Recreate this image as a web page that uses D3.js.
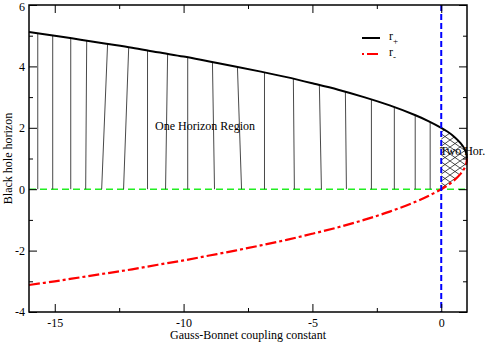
<!DOCTYPE html>
<html>
<head>
<meta charset="utf-8">
<script src="https://cdn.jsdelivr.net/npm/d3@7"></script>
<style>
body { margin: 0; background: #fff; }
text { font-family: "Liberation Serif", "Times New Roman", serif; }
</style>
</head>
<body>
<script>
(function(){

// coupling constant values (x) and the two horizons
var alphaVals = [-16, -15, -14, -13, -12, -11, -10, -9, -8, -7, -6, -5, -4, -3, -2, -1, -0.5, 0, 0.25, 0.5, 0.75, 0.9, 0.97, 1];
var rPlusVals = [5.12, 5.00, 4.87, 4.74, 4.61, 4.46, 4.32, 4.16, 4.00, 3.83, 3.65, 3.45, 3.24, 3.00, 2.73, 2.41, 2.22, 2.00, 1.87, 1.71, 1.50, 1.32, 1.17, 1.00];
var rMinusVals = [-3.12, -3.00, -2.87, -2.74, -2.61, -2.46, -2.32, -2.16, -2.00, -1.83, -1.65, -1.45, -1.24, -1.00, -0.73, -0.41, -0.22, 0.00, 0.13, 0.29, 0.50, 0.68, 0.83, 1.00];

// hand drawn hatch lines in the one horizon region (x at top, x at bottom)
var hatchTopX = [-15.66, -15.08, -14.38, -13.76, -12.95, -12.13, -11.40, -10.62, -9.84, -8.88, -7.91, -6.86, -5.74, -4.73, -3.72, -2.71, -1.82, -1.01, -0.43];
var hatchBottomX = [-15.66, -15.08, -14.38, -13.80, -13.18, -12.33, -11.40, -10.70, -9.84, -8.80, -7.75, -6.86, -5.70, -4.65, -3.68, -2.71, -1.82, -1.01, -0.43];

var xMajor = [-15, -10, -5, 0];
var xMinor = [-12.5, -7.5, -2.5];
var yMajor = [-4, -2, 0, 2, 4, 6];
var yMinor = [-3, -1, 1, 3, 5];

var width = 491, height = 342;
var left = 29, right = 467, top = 5, bottom = 312;
var serif = "'Liberation Serif', 'Times New Roman', serif";

var svg = d3.select("body").append("svg")
    .attr("width", width)
    .attr("height", height);

var x = d3.scaleLinear().domain([-16, 1]).range([left, right]);
var y = d3.scaleLinear().domain([-4, 6]).range([bottom, top]);

var data = alphaVals.map(function(a, i){
    return {a: a, p: rPlusVals[i], m: rMinusVals[i]};
});

//linear lookup of r+ for the hatch tops
function rPlusAt(a){
    for (var i = 1; i < alphaVals.length; i++){
        if (a <= alphaVals[i]){
            var t = (a - alphaVals[i-1]) / (alphaVals[i] - alphaVals[i-1]);
            return rPlusVals[i-1] + t * (rPlusVals[i] - rPlusVals[i-1]);
        }
    }
    return rPlusVals[rPlusVals.length-1];
}

//crosshatch pattern for the two horizon region
var defs = svg.append("defs");
var pat = defs.append("pattern")
    .attr("id", "xhatch")
    .attr("patternUnits", "userSpaceOnUse")
    .attr("width", 10)
    .attr("height", 7);
pat.append("path")
    .attr("d", "M0,0L10,7M0,7L10,0")
    .attr("stroke", "#000")
    .attr("stroke-width", 0.7)
    .attr("fill", "none");

//green zero line
svg.append("line")
    .attr("x1", x(-16)).attr("x2", x(1))
    .attr("y1", y(0)).attr("y2", y(0))
    .attr("stroke", "#22ee22")
    .attr("stroke-width", 1.5)
    .attr("stroke-dasharray", "7,4");

//vertical hatch lines
svg.selectAll(".hatch")
    .data(hatchTopX)
    .enter()
    .append("line")
    .attr("class", "hatch")
    .attr("x1", function(d){ return x(d); })
    .attr("y1", function(d){ return y(rPlusAt(d)); })
    .attr("x2", function(d, i){ return x(hatchBottomX[i]); })
    .attr("y2", y(0))
    .attr("stroke", "#333")
    .attr("stroke-width", 0.9);

//two horizon region
var twoHor = data.filter(function(d){ return d.a >= 0; });
svg.append("path")
    .datum(twoHor)
    .attr("d", d3.area()
        .x(function(d){ return x(d.a); })
        .y0(function(d){ return y(d.m); })
        .y1(function(d){ return y(d.p); })
        .curve(d3.curveCatmullRom))
    .attr("fill", "url(#xhatch)");

//r+ curve
svg.append("path")
    .datum(data)
    .attr("d", d3.line()
        .x(function(d){ return x(d.a); })
        .y(function(d){ return y(d.p); })
        .curve(d3.curveCatmullRom))
    .attr("fill", "none")
    .attr("stroke", "#000")
    .attr("stroke-width", 2);

//r- curve
svg.append("path")
    .datum(data)
    .attr("d", d3.line()
        .x(function(d){ return x(d.a); })
        .y(function(d){ return y(d.m); })
        .curve(d3.curveCatmullRom))
    .attr("fill", "none")
    .attr("stroke", "#ff0000")
    .attr("stroke-width", 2.2)
    .attr("stroke-dasharray", "11,3,3,3");

//blue dashed line at zero coupling
svg.append("line")
    .attr("x1", x(0)).attr("x2", x(0))
    .attr("y1", y(6)).attr("y2", y(-4))
    .attr("stroke", "#0000ff")
    .attr("stroke-width", 2)
    .attr("stroke-dasharray", "6,3");

//axes, ticks point inward on all four sides
function tidy(g){
    g.attr("font-family", serif).attr("font-size", 12);
    g.select(".domain").remove();
    g.selectAll(".tick line").attr("stroke", "#000");
    g.selectAll("text")
        .attr("fill", "#000")
        .style("font-family", serif)
        .style("font-size", "12px");
}

svg.append("g")
    .attr("transform", "translate(0," + bottom + ")")
    .call(d3.axisBottom(x).tickValues(xMajor).tickSize(-8).tickPadding(6)
        .tickFormat(function(d){ return d; }))
    .call(tidy);
svg.append("g")
    .attr("transform", "translate(0," + bottom + ")")
    .call(d3.axisBottom(x).tickValues(xMinor).tickSize(-4).tickFormat(""))
    .call(tidy);
svg.append("g")
    .attr("transform", "translate(0," + top + ")")
    .call(d3.axisTop(x).tickValues(xMajor).tickSize(-8).tickFormat(""))
    .call(tidy);
svg.append("g")
    .attr("transform", "translate(0," + top + ")")
    .call(d3.axisTop(x).tickValues(xMinor).tickSize(-4).tickFormat(""))
    .call(tidy);

var yAxisG = svg.append("g")
    .attr("transform", "translate(" + left + ",0)")
    .call(d3.axisLeft(y).tickValues(yMajor).tickSize(-8).tickPadding(4)
        .tickFormat(function(d){ return d; }))
    .call(tidy);
//keep the top label inside the window
yAxisG.selectAll(".tick text")
    .filter(function(d){ return d === 6; })
    .attr("dy", "0.45em");
svg.append("g")
    .attr("transform", "translate(" + left + ",0)")
    .call(d3.axisLeft(y).tickValues(yMinor).tickSize(-4).tickFormat(""))
    .call(tidy);
svg.append("g")
    .attr("transform", "translate(" + right + ",0)")
    .call(d3.axisRight(y).tickValues(yMajor).tickSize(-8).tickFormat(""))
    .call(tidy);
svg.append("g")
    .attr("transform", "translate(" + right + ",0)")
    .call(d3.axisRight(y).tickValues(yMinor).tickSize(-4).tickFormat(""))
    .call(tidy);

//frame
svg.append("rect")
    .attr("x", left).attr("y", top)
    .attr("width", right - left).attr("height", bottom - top)
    .attr("fill", "none")
    .attr("stroke", "#000")
    .attr("stroke-width", 1.5);

//axis titles
svg.append("text")
    .attr("x", (left + right) / 2)
    .attr("y", 339)
    .attr("text-anchor", "middle")
    .style("font-size", "12px")
    .text("Gauss-Bonnet coupling constant");

svg.append("text")
    .attr("transform", "translate(12," + ((top + bottom) / 2) + ") rotate(-90)")
    .attr("text-anchor", "middle")
    .style("font-size", "12px")
    .text("Black hole horizon");

//region labels
svg.append("text")
    .attr("x", 155).attr("y", 130)
    .style("font-size", "12px")
    .text("One Horizon Region");
svg.append("text")
    .attr("x", 440).attr("y", 155)
    .style("font-size", "12px")
    .text("Two Hor.");

//legend
var legend = svg.append("g");
legend.append("line")
    .attr("x1", 362).attr("x2", 380)
    .attr("y1", 38).attr("y2", 38)
    .attr("stroke", "#000").attr("stroke-width", 2);
legend.append("line")
    .attr("x1", 362).attr("x2", 381)
    .attr("y1", 54).attr("y2", 54)
    .attr("stroke", "#ff0000").attr("stroke-width", 2.2)
    .attr("stroke-dasharray", "2,3,11,3");

var t1 = legend.append("text").attr("x", 389).attr("y", 40).style("font-size", "12px");
t1.append("tspan").text("r");
t1.append("tspan").attr("dy", 4).style("font-size", "9px").text("+");
var t2 = legend.append("text").attr("x", 389).attr("y", 56).style("font-size", "12px");
t2.append("tspan").text("r");
t2.append("tspan").attr("dy", 4).style("font-size", "9px").text("-");

})();
</script>
</body>
</html>
